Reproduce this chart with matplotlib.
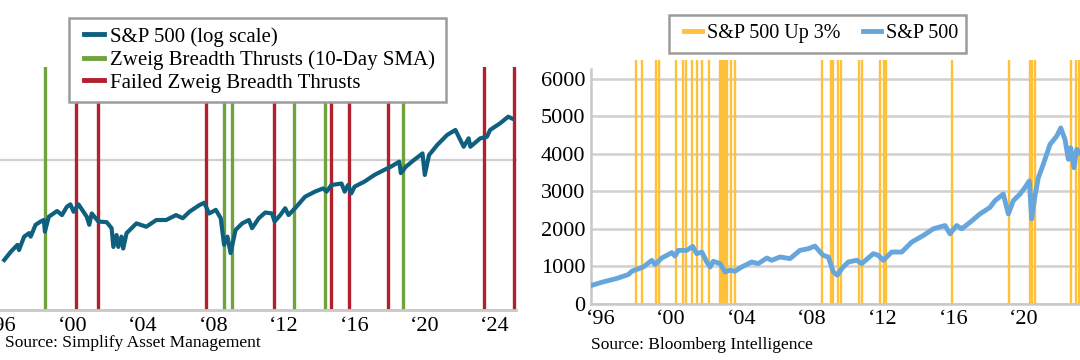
import matplotlib
matplotlib.use("Agg")
import matplotlib.pyplot as plt
from matplotlib.lines import Line2D
from matplotlib.patches import Rectangle

plt.rcParams['font.family'] = ['Liberation Serif', 'DejaVu Serif']

# ---- left panel: S&P 500 (log) with Zweig breadth thrusts ----
zw_years = [1996.12, 1996.50, 1996.87, 1996.96, 1997.25, 1997.53, 1997.62, 1997.90,
            1998.19, 1998.37, 1998.43, 1998.65, 1999.12, 1999.40, 1999.68, 1999.88,
            2000.06, 2000.34, 2000.62, 2000.81, 2000.95, 2001.09, 2001.47, 2001.94,
            2002.22, 2002.32, 2002.50, 2002.60, 2002.78, 2002.88, 2003.07, 2003.63,
            2004.19, 2004.76, 2005.32, 2005.88, 2006.26, 2006.64, 2007.20, 2007.48,
            2007.76, 2008.14, 2008.42, 2008.61, 2008.80, 2008.98, 2009.26, 2009.64,
            2010.02, 2010.20, 2010.58, 2010.95, 2011.33, 2011.48, 2011.80, 2012.08,
            2012.27, 2012.64, 2013.21, 2013.77, 2014.24, 2014.43, 2014.71, 2015.28,
            2015.46, 2015.65, 2015.84, 2016.02, 2016.59, 2017.15, 2017.71, 2018.09,
            2018.56, 2018.65, 2018.94, 2019.40, 2019.88, 2020.01, 2020.25, 2020.72,
            2021.28, 2021.75, 2022.22, 2022.50, 2022.60, 2023.16, 2023.54, 2023.72,
            2024.29, 2024.75, 2024.95]
zw_spx = [646, 735, 815, 753, 925, 976, 925, 1109,
          1167, 1194, 999, 1255, 1370, 1288, 1464, 1518,
          1355, 1518, 1355, 1255, 1109, 1320, 1167, 1155,
          1053, 790, 948, 790, 925, 771, 976, 1134,
          1077, 1194, 1194, 1288, 1227, 1355, 1500, 1556,
          1320, 1395, 1227, 815, 925, 719, 1024, 1134,
          1194, 1053, 1227, 1340, 1320, 1167, 1288, 1430,
          1288, 1430, 1707, 1845, 1940, 1845, 2043, 2091,
          1845, 2043, 1799, 1992, 2155, 2385, 2577, 2709,
          2923, 2453, 2709, 3000, 3318, 2385, 3233, 3780,
          4406, 4755, 3677, 4181, 3677, 4181, 4287, 4755,
          5270, 5831, 5683]
zweig_thrusts = [1998.45, 2008.59, 2009.06, 2012.57, 2014.33, 2018.75]
failed_thrusts = [2000.20, 2001.44, 2007.61, 2011.46, 2014.68, 2015.71,
                  2017.92, 2023.39, 2025.06]
left_ticks = [1996, 2000, 2004, 2008, 2012, 2016, 2020, 2024]
left_ticklabels = ["\u201896", "\u201800", "\u201804", "\u201808", "\u201812",
                   "\u201816", "\u201820", "\u201824"]

# ---- right panel: S&P 500 with 3% up days ----
up_years = [1995.42, 1996.17, 1996.93, 1997.59, 1997.78, 1998.44, 1998.91, 1999.10,
            1999.48, 2000.05, 2000.23, 2000.42, 2000.89, 2001.23, 2001.46, 2001.75,
            2002.03, 2002.22, 2002.40, 2002.78, 2003.07, 2003.35, 2003.63, 2004.01,
            2004.58, 2004.95, 2005.43, 2005.71, 2006.18, 2006.75, 2007.31, 2007.78,
            2008.16, 2008.45, 2008.63, 2008.92, 2009.20, 2009.43, 2009.68, 2010.05,
            2010.53, 2010.81, 2011.47, 2011.75, 2012.03, 2012.51, 2013.08, 2013.64,
            2014.30, 2014.87, 2015.53, 2015.81, 2016.19, 2016.48, 2016.95, 2017.51,
            2018.08, 2018.36, 2018.83, 2019.12, 2019.40, 2019.78, 2020.06, 2020.31,
            2020.44, 2020.63, 2020.82, 2021.10, 2021.48, 2021.86, 2022.09, 2022.33,
            2022.52, 2022.65, 2022.84, 2022.99, 2023.18]
up_spx = [485, 590, 680, 786, 873, 987, 1164, 1050,
          1225, 1368, 1278, 1429, 1429, 1534, 1341, 1384,
          1119, 987, 1138, 1076, 855, 900, 873, 987,
          1119, 1076, 1225, 1164, 1252, 1209, 1429, 1473,
          1543, 1384, 1296, 1252, 855, 767, 944, 1119,
          1164, 1076, 1341, 1296, 1164, 1384, 1384, 1648,
          1825, 2003, 2090, 1870, 2090, 2003, 2177, 2399,
          2574, 2751, 2929, 2399, 2751, 2929, 3103, 3280,
          2267, 2884, 3368, 3722, 4251, 4471, 4690, 4383,
          3854, 4161, 3632, 4119, 4029]
up3_days = [1998.02, 1998.35, 1999.17, 1999.33, 2000.27, 2000.69, 2000.84, 2001.18,
            2001.46, 2001.76, 2002.16, 2002.76, 2002.90, 2002.99, 2003.10, 2003.20,
            2003.40, 2003.65, 2008.54, 2009.05, 2009.20, 2009.48, 2009.64, 2010.66,
            2010.81, 2011.85, 2012.07, 2012.19, 2015.91, 2019.16, 2020.35, 2020.48,
            2020.63, 2022.65, 2022.95, 2023.12]
right_ticks = [1996, 2000, 2004, 2008, 2012, 2016, 2020]
right_ticklabels = ["\u201896", "\u201800", "\u201804", "\u201808", "\u201812",
                    "\u201816", "\u201820"]
right_yticks = [0, 1000, 2000, 3000, 4000, 5000, 6000]

teal = '#0f5f7e'
green = '#70a33e'
red = '#b21f2e'
yellow = '#ffc03a'
blue = '#67a6dc'
grid = '#d0d0d0'
frame_col = '#9c9c9c'

W, H = 1080, 360
fig = plt.figure(figsize=(10.8, 3.6), dpi=100)


def px_box(x0, y0, x1, y1):
    """Rectangle in figure fraction from pixel corners (top-left origin)."""
    return Rectangle((x0 / W, 1 - y1 / H), (x1 - x0) / W, (y1 - y0) / H,
                     transform=fig.transFigure, facecolor='white',
                     edgecolor=frame_col, lw=1.8, zorder=4)


# left axes
ax1 = fig.add_axes([0 / W, (H - 310) / H, 516.5 / W, (310 - 67) / H])
for x in zweig_thrusts:
    ax1.axvline(x, color=green, lw=2.4, zorder=2)
for x in failed_thrusts:
    ax1.axvline(x, color=red, lw=2.4, zorder=2)
ax1.plot(zw_years, zw_spx, color=teal, lw=3, zorder=3, solid_joinstyle='round')
ax1.set_yscale('log')
ax1.set_ylim(300, 12500)
ax1.set_xlim(1995.88, 2025.22)
ax1.axhline(3000, color=grid, lw=1.6, zorder=1)
ax1.set_yticks([])
ax1.minorticks_off()
ax1.set_xticks(left_ticks)
ax1.set_xticklabels(left_ticklabels, fontsize=16)
ax1.tick_params(axis='x', length=0, pad=5)
for s in ['top', 'right', 'left']:
    ax1.spines[s].set_visible(False)
ax1.spines['bottom'].set_color('#c8c8c8')
ax1.spines['bottom'].set_linewidth(2)

# right axes
ax2 = fig.add_axes([591 / W, (H - 304) / H, 489 / W, 244 / H])
for x in up3_days:
    ax2.axvline(x, color=yellow, lw=1.7, zorder=2)
ax2.plot(up_years, up_spx, color=blue, lw=3.5, zorder=3, solid_joinstyle='round')
ax2.set_xlim(1995.47, 2023.18)
ax2.set_ylim(0, 6500)
ax2.set_yticks(right_yticks)
ax2.set_yticklabels([str(v) for v in right_yticks], fontsize=16)
ax2.set_xticks(right_ticks)
ax2.set_xticklabels(right_ticklabels, fontsize=16)
ax2.tick_params(length=0)
ax2.tick_params(axis='y', pad=4)
ax2.tick_params(axis='x', pad=4)
ax2.grid(axis='y', color=grid, lw=1.8, zorder=1)
ax2.set_axisbelow(True)
for s in ['top', 'right']:
    ax2.spines[s].set_visible(False)
for s in ['bottom', 'left']:
    ax2.spines[s].set_color('#c8c8c8')
    ax2.spines[s].set_linewidth(1.8)
ax2.spines['left'].set_bounds(0, 6250)

# legends: frames drawn as figure patches so the padding can match
fig.add_artist(px_box(69, 18, 446, 102))
h1 = [Line2D([], [], color=teal, lw=3.5),
      Line2D([], [], color=green, lw=3.5),
      Line2D([], [], color=red, lw=3.5)]
leg1 = fig.legend(h1, ['S&P 500 (log scale)', 'Zweig Breadth Thrusts (10-Day SMA)',
                       'Failed Zweig Breadth Thrusts'],
                  loc='upper left', bbox_to_anchor=(84 / W, 1 - 27 / H),
                  borderaxespad=0, borderpad=0, frameon=False,
                  fontsize=15, handlelength=0.95, handletextpad=0.3,
                  labelspacing=0.16)
leg1.set_zorder(6)

fig.add_artist(px_box(669, 15, 966, 53))
h2 = [Line2D([], [], color=yellow, lw=3.5), Line2D([], [], color=blue, lw=3.5)]
leg2 = fig.legend(h2, ['S&P 500 Up 3%', 'S&P 500'], ncol=2,
                  loc='upper left', bbox_to_anchor=(684 / W, 1 - 24 / H),
                  borderaxespad=0, borderpad=0, frameon=False,
                  fontsize=14.5, handlelength=0.9, handletextpad=0.25,
                  columnspacing=1.1)
leg2.set_zorder(6)

fig.text(5 / W, 1 - 343 / H, 'Source: Simplify Asset Management', fontsize=12.5,
         va='center', ha='left')
fig.text(591 / W, 1 - 345 / H, 'Source: Bloomberg Intelligence', fontsize=12.5,
         va='center', ha='left')

fig.savefig('out.png', dpi=100)
